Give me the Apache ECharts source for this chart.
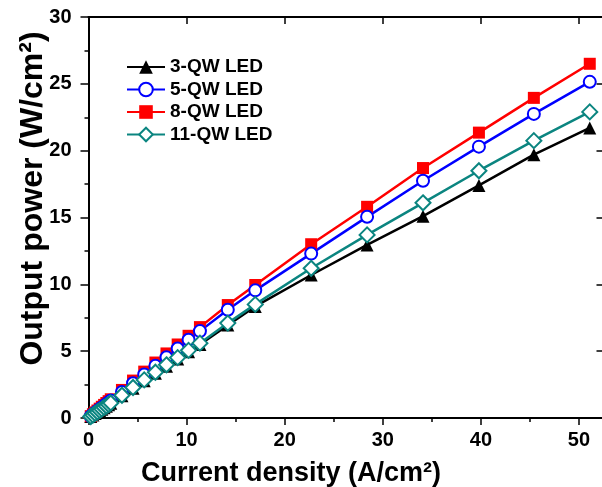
<!DOCTYPE html>
<html>
<head>
<meta charset="utf-8">
<script src="https://cdn.jsdelivr.net/npm/echarts@6/dist/echarts.min.js"></script>
<style>
html,body{margin:0;padding:0;background:#fff;}
#c{width:602px;height:487px;}
</style>
</head>
<body>
<div id="c"></div>
<script>
// Current density (A/cm^2)
const currentDensity = [0.23,0.45,0.68,0.91,1.14,1.36,1.59,1.82,2.05,2.27,3.41,4.54,5.68,6.82,7.95,9.09,10.2,11.36,14.2,17.0,22.7,28.4,34.1,39.8,45.4,51.1];
// Output power (W/cm^2)
const qw3 = [0.11,0.22,0.33,0.44,0.55,0.66,0.77,0.88,0.99,1.1,1.66,2.22,2.78,3.34,3.88,4.42,4.96,5.5,6.95,8.35,10.7,12.95,15.1,17.4,19.7,21.7];
const qw5 = [0.13,0.26,0.39,0.52,0.65,0.78,0.91,1.04,1.17,1.3,1.95,2.6,3.25,3.9,4.55,5.2,5.85,6.5,8.1,9.55,12.3,15.05,17.75,20.3,22.75,25.15];
const qw8 = [0.14,0.28,0.42,0.56,0.7,0.84,0.98,1.12,1.26,1.4,2.1,2.8,3.47,4.15,4.83,5.5,6.15,6.8,8.45,9.95,13.0,15.8,18.7,21.35,23.95,26.5];
const qw11 = [0.11,0.22,0.34,0.45,0.56,0.67,0.79,0.9,1.01,1.12,1.7,2.28,2.85,3.42,3.98,4.52,5.06,5.6,7.1,8.5,11.2,13.7,16.1,18.5,20.75,22.9];
const seriesNames = ['3-QW LED','5-QW LED','8-QW LED','11-QW LED'];
const xTitle = 'Current density (A/cm²)';
const yTitle = 'Output power (W/cm²)';

const FONT = "'Liberation Sans', Arial, sans-serif";
const pairs = v => currentDensity.map((x, i) => [x, v[i]]);
const teal = '#0b8580';

const gridBox = {left: 88.5, right: -1.5, top: 17, bottom: 69, outerBoundsMode: 'none', containLabel: false};

const axLine = {show: true, onZero: false, lineStyle: {color: '#000', width: 2}};
const tickStyle = {color: '#000', width: 1.5};
const lblStyle = {fontSize: 20, fontWeight: 'bold', color: '#000', fontFamily: FONT};
const titleStyle = {fontSize: 27, fontWeight: 'bold', color: '#000', fontFamily: FONT};

const chart = echarts.init(document.getElementById('c'), null, {renderer: 'canvas'});
chart.setOption({
  animation: false,
  backgroundColor: '#fff',
  grid: [Object.assign({}, gridBox), Object.assign({}, gridBox)],
  legend: {
    orient: 'vertical',
    left: 126,
    top: 57.5,
    padding: 0,
    itemWidth: 38,
    itemHeight: 17,
    itemGap: 3.5,
    data: seriesNames,
    textStyle: {fontSize: 19, fontWeight: 'bold', color: '#000', fontFamily: FONT}
  },
  xAxis: [
    {gridIndex: 0, type: 'value', position: 'bottom', min: 0, max: 52.5, interval: 10,
     axisLine: axLine, axisTick: {show: true, inside: false, length: 7, lineStyle: tickStyle},
     axisLabel: Object.assign({show: true, margin: 12, showMaxLabel: false}, lblStyle),
     splitLine: {show: false},
     name: xTitle, nameLocation: 'middle', nameGap: 42.5, nameMoveOverlap: false,
     nameTextStyle: Object.assign({padding: [0, 110, 0, 0]}, titleStyle)},
    {gridIndex: 0, type: 'value', position: 'top', min: 0, max: 52.5, interval: 10,
     axisLine: axLine, axisTick: {show: true, inside: true, length: 7, lineStyle: tickStyle},
     axisLabel: {show: false}, splitLine: {show: false}},
    {gridIndex: 1, type: 'value', position: 'bottom', min: 0, max: 52.5, interval: 5,
     axisLine: {show: false}, axisTick: {show: true, inside: false, length: 4, lineStyle: tickStyle},
     axisLabel: {show: false}, splitLine: {show: false}},
    {gridIndex: 1, type: 'value', position: 'top', min: 0, max: 52.5, interval: 5,
     axisLine: {show: false}, axisTick: {show: true, inside: true, length: 4, lineStyle: tickStyle},
     axisLabel: {show: false}, splitLine: {show: false}}
  ],
  yAxis: [
    {gridIndex: 0, type: 'value', position: 'left', min: 0, max: 30, interval: 5,
     axisLine: axLine, axisTick: {show: true, inside: false, length: 8, lineStyle: tickStyle},
     axisLabel: Object.assign({show: true, margin: 17}, lblStyle),
     splitLine: {show: false},
     name: yTitle, nameLocation: 'middle', nameGap: 39, nameRotate: 90, nameMoveOverlap: false,
     nameTextStyle: Object.assign({}, titleStyle, {fontSize: 32, padding: [0, 0, 0, 38]})},
    {gridIndex: 0, type: 'value', position: 'right', min: 0, max: 30, interval: 5,
     axisLine: axLine, axisTick: {show: true, inside: true, length: 7, lineStyle: tickStyle},
     axisLabel: {show: false}, splitLine: {show: false}},
    {gridIndex: 1, type: 'value', position: 'left', min: 0, max: 30, interval: 2.5,
     axisLine: {show: false}, axisTick: {show: true, inside: false, length: 4, lineStyle: tickStyle},
     axisLabel: {show: false}, splitLine: {show: false}},
    {gridIndex: 1, type: 'value', position: 'right', min: 0, max: 30, interval: 2.5,
     axisLine: {show: false}, axisTick: {show: true, inside: true, length: 4, lineStyle: tickStyle},
     axisLabel: {show: false}, splitLine: {show: false}}
  ],
  series: [
    {name: seriesNames[0], type: 'line', xAxisIndex: 0, yAxisIndex: 0, data: pairs(qw3),
     symbol: 'triangle', symbolSize: 13, showAllSymbol: true,
     itemStyle: {color: '#000'}, lineStyle: {color: '#000', width: 2.5}},
    {name: seriesNames[2], type: 'line', xAxisIndex: 0, yAxisIndex: 0, data: pairs(qw8),
     symbol: 'rect', symbolSize: 12, showAllSymbol: true,
     itemStyle: {color: '#ff0000'}, lineStyle: {color: '#ff0000', width: 2.5}},
    {name: seriesNames[1], type: 'line', xAxisIndex: 0, yAxisIndex: 0, data: pairs(qw5),
     symbol: 'emptyCircle', symbolSize: 12, showAllSymbol: true,
     itemStyle: {color: '#0000ff', borderWidth: 2.5}, lineStyle: {color: '#0000ff', width: 2.5}},
    {name: seriesNames[3], type: 'line', xAxisIndex: 0, yAxisIndex: 0, data: pairs(qw11),
     symbol: 'emptyDiamond', symbolSize: 15, showAllSymbol: true,
     itemStyle: {color: teal, borderWidth: 3}, lineStyle: {color: teal, width: 2.5}}
  ]
});
</script>
</body>
</html>
